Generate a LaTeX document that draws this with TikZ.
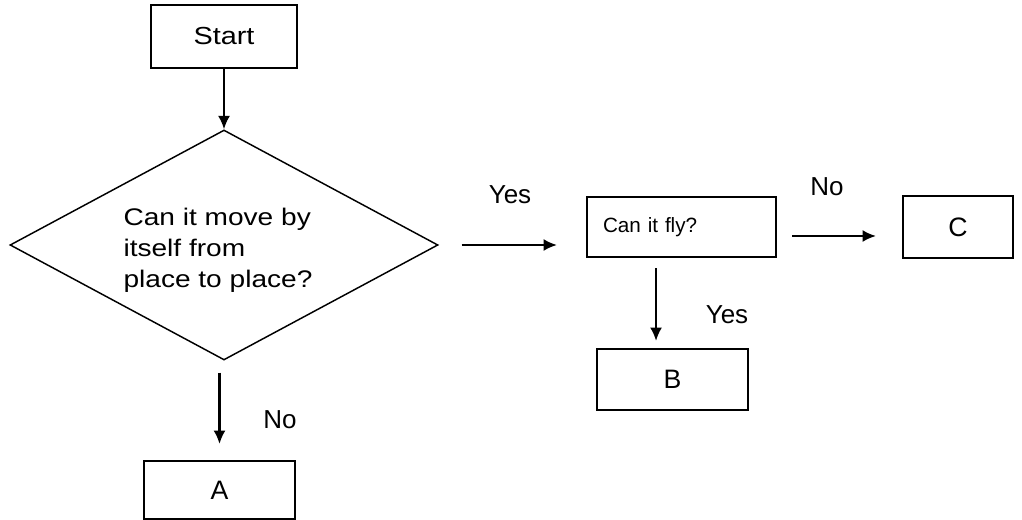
\documentclass[tikz,border=0pt]{standalone}
\usepackage{fontspec}
\setmainfont{Liberation Sans}
\newfontfamily\widefont{Liberation Sans}[FakeStretch=1.17]
\usetikzlibrary{shapes.geometric,arrows.meta}

\tikzset{
  box/.style={draw, line width=1.6pt, rectangle, inner sep=0pt, font=\fontsize{20}{24}\selectfont},
  decision/.style={draw, line width=1.1pt, diamond, inner sep=0pt},
  arr/.style={line width=1.6pt, -{Latex[length=10pt,width=9pt]}},
  lbl/.style={inner sep=0pt, font=\fontsize{19.5}{23}\selectfont}
}

\begin{document}
\begin{tikzpicture}[x=0.75pt,y=-0.75pt]
  \useasboundingbox (0,0) rectangle (1022,520);

  % boxes
  \node[box, minimum width=109.5pt, minimum height=47.25pt,
        font=\widefont\fontsize{18.5}{22}\selectfont] (start) at (224,36.5) {Start};
  \node[decision, minimum width=321pt, minimum height=172.5pt] (q1) at (224,245) {};
  \node[align=left, inner sep=0pt, font=\widefont\fontsize{18}{23.25}\selectfont]
        (q1text) at (218,250) {Can it move by\\itself from\\place to place?};
  \node[box, minimum width=113.25pt, minimum height=43.5pt] (A) at (219.5,490) {A};
  \node[box, minimum width=141.75pt, minimum height=45pt, inner xsep=12pt,
        text width=117.75pt, align=left, font=\fontsize{15.5}{19}\selectfont]
        (fly) at (681.5,227) {Can it fly?};
  \node[box, minimum width=82.5pt, minimum height=46.5pt] (C) at (958,227) {C};
  \node[box, minimum width=113.25pt, minimum height=45.75pt] (B) at (672.5,379.5) {B};

  % connectors
  \draw[arr] (start.south -| q1.north) -- (q1.north);
  \draw[arr, shorten <=9pt, shorten >=12pt] (A.north |- q1.south) -- (A.north);
  \draw[arr, shorten <=17.25pt, shorten >=21.75pt] (q1.east) -- (q1.east -| fly.west);
  \draw[arr, shorten <=11.25pt, shorten >=19.5pt]
        ([yshift=-6.75pt]fly.east) -- ([yshift=-6.75pt]C.west);
  \draw[arr, shorten <=7.5pt, shorten >=5.25pt]
        ([xshift=-19.1pt]fly.south) -- ([xshift=-19.1pt]fly.south |- B.north);

  % branch labels
  \node[lbl] (yes1) at (510,195) {Yes};
  \node[lbl] (no1) at (827,187) {No};
  \node[lbl] (yes2) at (727,315) {Yes};
  \node[lbl] (no2) at (280,420) {No};
\end{tikzpicture}
\end{document}
